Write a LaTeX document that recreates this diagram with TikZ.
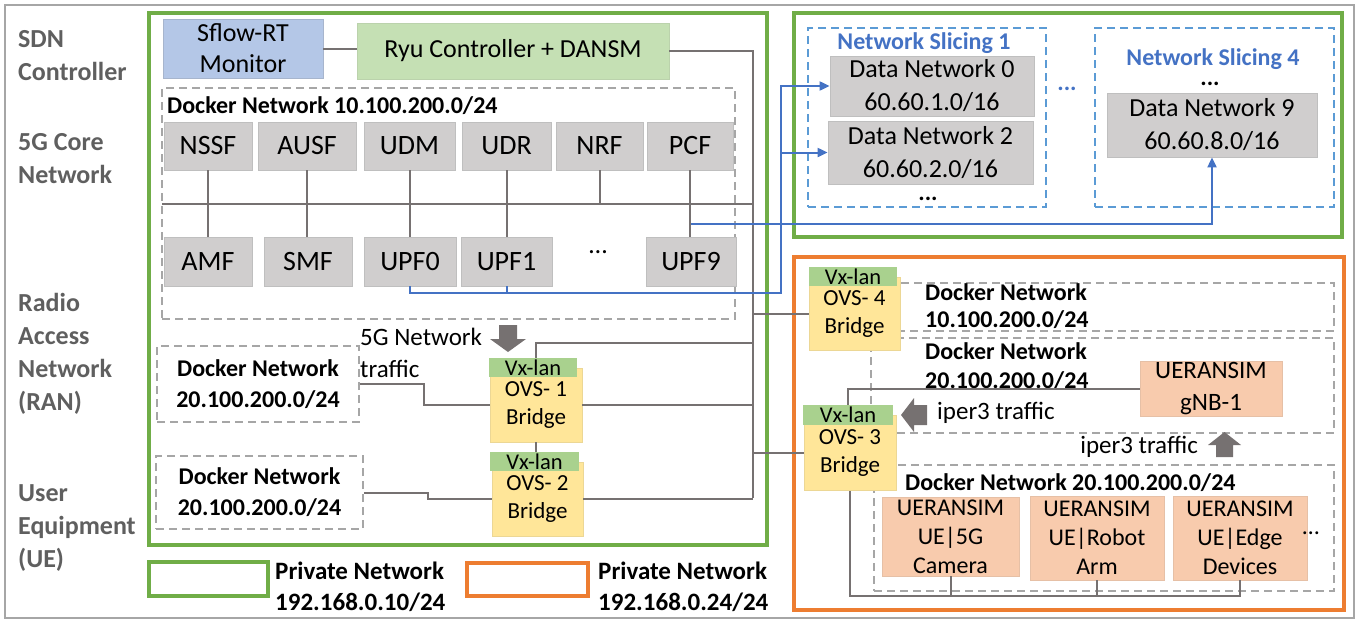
\documentclass[tikz,border=0pt]{standalone}
\usepackage{fontspec}
\setmainfont{Carlito}
\usetikzlibrary{arrows.meta}
\definecolor{nfgray}{HTML}{D0CECE}
\definecolor{nfedge}{HTML}{BFBFBF}
\definecolor{wire}{HTML}{767171}
\definecolor{dashgray}{HTML}{A6A6A6}
\definecolor{pgreen}{HTML}{70AD47}
\definecolor{porange}{HTML}{ED7D31}
\definecolor{sblue}{HTML}{4472C4}
\definecolor{dblue}{HTML}{5B9BD5}
\definecolor{sflowblue}{HTML}{B4C7E7}
\definecolor{ryugreen}{HTML}{C5E0B4}
\definecolor{ovsyellow}{HTML}{FFE699}
\definecolor{vxgreen}{HTML}{A9D18E}
\definecolor{uesalmon}{HTML}{F8CBAD}
\definecolor{labgray}{HTML}{5F5F5F}
\definecolor{framegray}{HTML}{A6A6A6}
\newcommand{\myfs}[2]{\fontsize{#1}{#2}\selectfont}
\begin{document}
\begin{tikzpicture}[x=1pt,y=-1pt,
  nf/.style={draw=nfedge, line width=0.8pt, fill=nfgray, inner sep=0pt, align=center, font=\myfs{28}{32}},
  dn/.style={draw=nfedge, line width=0.8pt, fill=nfgray, inner sep=0pt, align=center, font=\myfs{26}{33}},
  ovsbox/.style={draw=ovsyellow!85!gray, line width=0.6pt, fill=ovsyellow, inner sep=0pt, align=center, font=\myfs{23}{28}},
  vxbox/.style={fill=vxgreen, inner sep=0pt, font=\myfs{22.5}{24}},
  uebox/.style={draw=uesalmon!85!gray, line width=0.6pt, fill=uesalmon, inner sep=0pt, align=center, font=\myfs{24}{29}},
  dbox/.style={draw=dashgray, dashed, dash pattern=on 8pt off 5pt, line width=1.6pt, inner sep=0pt, align=center},
  sbox/.style={draw=dblue, dashed, dash pattern=on 8pt off 5pt, line width=1.6pt, inner sep=0pt},
  dklab/.style={font=\bfseries\myfs{24}{28}, inner sep=0pt, align=left},
  sidelab/.style={font=\bfseries\myfs{26}{33}, text=labgray, inner sep=0pt, align=left, anchor=west},
  plain/.style={font=\myfs{25}{32}, inner sep=0pt, align=left},
  wireln/.style={draw=wire, line width=2pt},
  spine/.style={draw=wire, line width=2.6pt},
  blueln/.style={draw=sblue, line width=2pt},
  tip/.style={-{Triangle[length=10pt,width=9pt]}},
  frameg/.style={draw=pgreen, line width=4pt},
  frameo/.style={draw=porange, line width=4pt}
]
\useasboundingbox (0,0) rectangle (1358,622);
\draw[framegray, line width=1.5pt] (5,5) rectangle (1354,618);

% side labels
\node[sidelab] (lsdn) at (18,56) {SDN\\Controller};
\node[sidelab] (lcore) at (18,159) {5G Core\\Network};
\node[sidelab] (lran) at (18,354) {Radio\\Access\\Network\\(RAN)};
\node[sidelab] (lue) at (18,528) {User\\Equipment\\(UE)};

% frames
\draw[frameg] (149,13) rectangle (767,545);
\draw[frameg] (794,13) rectangle (1342,237);
\draw[frameo] (794,257) rectangle (1344,610);

% SDN controller
\node[draw=sflowblue!75!gray, line width=0.8pt, fill=sflowblue, inner sep=0pt, align=center, font=\myfs{26}{31},
      minimum width=160pt, minimum height=59pt] (sflow) at (243,48.5) {Sflow-RT\\Monitor};
\node[draw=ryugreen!85!gray, line width=0.8pt, fill=ryugreen, inner sep=0pt, font=\myfs{26}{31},
      minimum width=312pt, minimum height=56pt] (ryu) at (513,51) {Ryu Controller + DANSM};
\draw[wireln] (sflow.east) -- (sflow.east -| ryu.west);
\coordinate (sptop) at (753,51);
\coordinate (spbot) at (753,498);

% docker network 1
\node[dbox, minimum width=573pt, minimum height=231pt] (dk1) at (448.5,203.5) {};
\node[dklab, anchor=west] (dk1lab) at (167,106) {Docker Network 10.100.200.0/24};

\node[nf, minimum width=88pt, minimum height=48pt] (nssf) at (208,146) {NSSF};
\node[nf, minimum width=98pt, minimum height=48pt] (ausf) at (307,146) {AUSF};
\node[nf, minimum width=91pt, minimum height=48pt] (udm) at (409.5,146) {UDM};
\node[nf, minimum width=89pt, minimum height=48pt] (udr) at (506.5,146) {UDR};
\node[nf, minimum width=87pt, minimum height=48pt] (nrf) at (599.5,146) {NRF};
\node[nf, minimum width=86pt, minimum height=48pt] (pcf) at (690,146) {PCF};

\node[nf, minimum width=88pt, minimum height=49pt] (amf) at (208,261.5) {AMF};
\node[nf, minimum width=88pt, minimum height=49pt] (smf) at (308,261.5) {SMF};
\node[nf, minimum width=92pt, minimum height=49pt] (upf0) at (410,261.5) {UPF0};
\node[nf, minimum width=91pt, minimum height=49pt] (upf1) at (506.5,261.5) {UPF1};
\node[nf, minimum width=90pt, minimum height=49pt] (upf9) at (691,261.5) {UPF9};
\node[font=\myfs{26}{30}, inner sep=0pt] (udots) at (598,252) {\dots};

\coordinate (busL) at (162,204);
\draw[wireln] (busL) -- (busL -| sptop);
\draw[wireln] (nssf.south) -- (nssf.south |- amf.north);
\draw[wireln] (ausf.south) -- (ausf.south |- smf.north);
\draw[wireln] (udm.south) -- (udm.south |- upf0.north);
\draw[wireln] (udr.south) -- (udr.south |- upf1.north);
\draw[wireln] (nrf.south) -- (nrf.south |- busL);
\draw[wireln] (pcf.south) -- (pcf.south |- upf9.north);

% RAN / UE docker networks
\node[dbox, font=\bfseries\myfs{24}{31}, minimum width=202pt, minimum height=76pt] (ran) at (258,384) {Docker Network\\20.100.200.0/24};
\node[dbox, font=\bfseries\myfs{24}{31}, minimum width=207pt, minimum height=73pt] (ue) at (259.5,492.5) {Docker Network\\20.100.200.0/24};

% OVS bridges left
\node[ovsbox, minimum width=92pt, minimum height=74pt] (ovs1) at (536,405) {OVS- 1\\Bridge};
\node[vxbox, minimum width=88pt, minimum height=19pt] (vx1) at (533,367.5) {Vx-lan};
\node[ovsbox, minimum width=91pt, minimum height=74pt] (ovs2) at (537.5,499) {OVS- 2\\Bridge};
\node[vxbox, minimum width=89pt, minimum height=19pt] (vx2) at (534.5,461.5) {Vx-lan};

\node[plain, anchor=west] (trf5g) at (360,353) {5G Network\\traffic};
\fill[wire] (499,325) -- (517,325) -- (517,339) -- (526,339) -- (508,352) -- (490,339) -- (499,339) -- cycle;

\coordinate (k1) at (424,384);
\coordinate (k2) at (428,492.5);
\coordinate (j1) at (753,343);
\draw[wireln] (ran.east) -- (k1) |- (ovs1.west);
\draw[wireln] (ue.east) -- (k2) |- (ovs2.west);
\draw[wireln] (ovs1.south) -- (ovs1.south |- vx2.north);
\draw[wireln] (vx1.north -| ovs1.north) |- (j1);
\draw[wireln] (ovs1.east) -- (ovs1.east -| spbot);
\draw[wireln] (ovs2.east) -- (ovs2.east -| spbot);
\draw[spine] (ryu.east) -- (sptop) -- (spbot);

% right top: network slicing
\node[sbox, minimum width=238pt, minimum height=179pt] (ns1) at (927,117.5) {};
\node[sbox, minimum width=239pt, minimum height=179pt] (ns4) at (1214.5,117.5) {};
\node[font=\bfseries\myfs{24}{28}, text=sblue, inner sep=0pt] (ns1lab) at (924,43) {Network Slicing 1};
\node[font=\bfseries\myfs{24}{28}, text=sblue, inner sep=0pt] (ns4lab) at (1213,59) {Network Slicing 4};
\node[dn, minimum width=204pt, minimum height=60pt] (dn0) at (932,86) {Data Network 0\\60.60.1.0/16};
\node[dn, minimum width=205pt, minimum height=63pt] (dn2) at (930.5,152.5) {Data Network 2\\60.60.2.0/16};
\node[dn, minimum width=210pt, minimum height=64pt] (dn9) at (1212,125) {Data Network 9\\60.60.8.0/16};
\node[font=\bfseries\myfs{24}{28}, inner sep=0pt] (d1dots) at (928,199) {...};
\node[font=\bfseries\myfs{24}{28}, inner sep=0pt, text=sblue] (mdots) at (1067,89) {...};
\node[font=\bfseries\myfs{24}{28}, inner sep=0pt] (d4dots) at (1210,84) {...};

% blue data paths
\coordinate (bj) at (781,293);
\coordinate (b9) at (691,224);
\draw[blueln, tip] (upf0.south) -- (upf0.south |- bj) -- (bj) -- (bj |- dn0.west) -- (dn0.west);
\draw[blueln, tip] (bj |- dn2.west) -- (dn2.west);
\draw[blueln] (upf1.south) -- (upf1.south |- bj);
\draw[blueln, tip] (b9) -- (b9 -| dn9.south) -- (dn9.south);

% right bottom: RAN/UE side
\node[dbox, minimum width=463pt, minimum height=48pt] (dk4) at (1102.5,307) {};
\node[dbox, minimum width=463pt, minimum height=95pt] (dk3) at (1102.5,385.5) {};
\node[dbox, minimum width=460pt, minimum height=126pt] (dk5) at (1104,528) {};
\node[dklab, font=\bfseries\myfs{24}{27}, anchor=west] (dk4lab) at (925,306.5) {Docker Network\\10.100.200.0/24};
\node[dklab, font=\bfseries\myfs{24}{29}, anchor=west] (dk3lab) at (925,366.5) {Docker Network\\20.100.200.0/24};
\node[dklab, anchor=west] (dk5lab) at (905,483) {Docker Network 20.100.200.0/24};

\node[ovsbox, minimum width=91pt, minimum height=73pt] (ovs4) at (854.5,314) {OVS- 4\\Bridge};
\node[vxbox, minimum width=88pt, minimum height=19pt] (vx4) at (853,276.5) {Vx-lan};
\node[ovsbox, minimum width=92pt, minimum height=75pt] (ovs3) at (850,453) {OVS- 3\\Bridge};
\node[vxbox, minimum width=90pt, minimum height=20pt] (vx3) at (848,415) {Vx-lan};

\node[uebox, font=\myfs{25}{32}, minimum width=142pt, minimum height=55pt] (gnb) at (1211,388.5) {UERANSIM\\gNB-1};
\node[uebox, minimum width=137pt, minimum height=79pt] (cam) at (950.5,536.5) {UERANSIM\\UE|5G\\Camera};
\node[uebox, minimum width=134pt, minimum height=84pt] (robot) at (1097,538) {UERANSIM\\UE|Robot\\Arm};
\node[uebox, minimum width=134pt, minimum height=84pt] (edge) at (1240,538) {UERANSIM\\UE|Edge\\Devices};
\node[font=\myfs{24}{28}, inner sep=0pt] (edots) at (1311,533) {\dots};

\draw[wireln] (sptop |- ovs4.west) -- (ovs4.west);
\draw[wireln] (sptop |- ovs3.west) -- (ovs3.west);
\draw[wireln] (gnb.west) -| (vx3.north);
\coordinate (bb) at (849,596);
\draw[wireln] (ovs3.south) |- (edge.south |- bb) -- (edge.south);
\draw[wireln] (cam.south) -- (cam.south |- bb);
\draw[wireln] (robot.south) -- (robot.south |- bb);

\node[plain, anchor=west] (ip1) at (937,413) {iper3 traffic};
\node[plain, anchor=east] (ip2) at (1198,447) {iper3 traffic};
\fill[wire] (901,415) -- (914,398) -- (914,405) -- (927,405) -- (927,425) -- (914,425) -- (914,432) -- cycle;
\fill[wire] (1224.5,432) -- (1241,445) -- (1233,445) -- (1233,457) -- (1216,457) -- (1216,445) -- (1208,445) -- cycle;

% legend
\node[frameg, inner sep=0pt, minimum width=119pt, minimum height=34pt] (leggbox) at (208.5,579) {};
\node[dklab, font=\bfseries\myfs{25}{31}, anchor=west] (leggtxt) at (275,586.5) {Private Network\\192.168.0.10/24};
\node[frameo, inner sep=0pt, minimum width=121pt, minimum height=33pt] (legobox) at (527.5,579.5) {};
\node[dklab, font=\bfseries\myfs{25}{31}, anchor=west] (legotxt) at (598,586.5) {Private Network\\192.168.0.24/24};
\end{tikzpicture}
\end{document}
